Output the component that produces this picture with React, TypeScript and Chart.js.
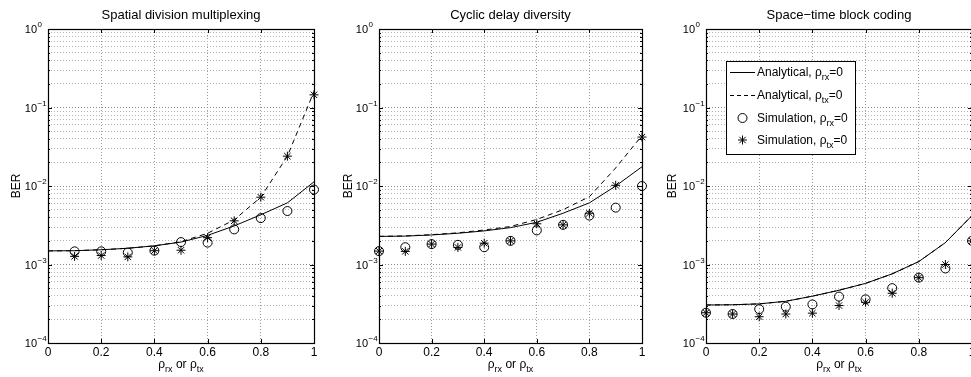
import React, { useEffect, useRef } from 'react';
import { Chart, registerables } from 'chart.js';

Chart.register(...registerables);

const FONT = '"Liberation Sans", Arial, Helvetica, sans-serif';

// ---------- data ----------
const rhoGrid = [0, 0.1, 0.2, 0.3, 0.4, 0.5, 0.6, 0.7, 0.8, 0.9, 1.0];
const xTickStep = 0.2;
const yDecades = [1e-4, 1e-3, 1e-2, 1e-1, 1];
const yExponents = ['−4', '−3', '−2', '−1', '0'];

// Spatial division multiplexing
const sdmAnalyticalRx = [1.49e-3, 1.5e-3, 1.54e-3, 1.61e-3, 1.73e-3, 1.93e-3, 2.35e-3, 3.1e-3, 4.3e-3, 6.1e-3, 1.13e-2];
const sdmAnalyticalTx = [1.49e-3, 1.5e-3, 1.54e-3, 1.61e-3, 1.73e-3, 1.95e-3, 2.5e-3, 3.7e-3, 7.2e-3, 2.4e-2, 1.6e-1];
const sdmSimX = [0.1, 0.2, 0.3, 0.4, 0.5, 0.6, 0.7, 0.8, 0.9, 1.0];
const sdmSimRx = [1.47e-3, 1.47e-3, 1.42e-3, 1.5e-3, 1.93e-3, 1.9e-3, 2.8e-3, 3.9e-3, 4.8e-3, 9.0e-3];
const sdmSimTx = [1.27e-3, 1.3e-3, 1.25e-3, 1.5e-3, 1.52e-3, 2.2e-3, 3.6e-3, 7.2e-3, 2.4e-2, 1.45e-1];

// Cyclic delay diversity
const cddAnalyticalRx = [2.28e-3, 2.3e-3, 2.38e-3, 2.5e-3, 2.68e-3, 2.95e-3, 3.45e-3, 4.5e-3, 6.1e-3, 1.0e-2, 1.76e-2];
const cddAnalyticalTx = [2.28e-3, 2.31e-3, 2.4e-3, 2.53e-3, 2.75e-3, 3.05e-3, 3.75e-3, 5.0e-3, 7.3e-3, 1.7e-2, 4.4e-2];
const cddSimX = [0, 0.1, 0.2, 0.3, 0.4, 0.5, 0.6, 0.7, 0.8, 0.9, 1.0];
const cddSimRx = [1.48e-3, 1.66e-3, 1.82e-3, 1.78e-3, 1.66e-3, 2.0e-3, 2.72e-3, 3.2e-3, 4.2e-3, 5.3e-3, 1.0e-2];
const cddSimTx = [1.48e-3, 1.47e-3, 1.82e-3, 1.65e-3, 1.87e-3, 2.0e-3, 3.3e-3, 3.2e-3, 4.5e-3, 1.02e-2, 4.2e-2];

// Space-time block coding
const stbcAnalyticalRx = [3.05e-4, 3.07e-4, 3.15e-4, 3.4e-4, 3.95e-4, 4.7e-4, 5.75e-4, 7.6e-4, 1.09e-3, 1.9e-3, 4.2e-3];
const stbcAnalyticalTx = [3.05e-4, 3.07e-4, 3.15e-4, 3.4e-4, 3.95e-4, 4.7e-4, 5.75e-4, 7.6e-4, 1.09e-3, 1.9e-3, 4.2e-3];
const stbcSimX = [0, 0.1, 0.2, 0.3, 0.4, 0.5, 0.6, 0.7, 0.8, 0.9, 1.0];
const stbcSimRx = [2.43e-4, 2.34e-4, 2.7e-4, 2.9e-4, 3.1e-4, 3.9e-4, 3.6e-4, 5.0e-4, 6.8e-4, 8.9e-4, 2.0e-3];
const stbcSimTx = [2.43e-4, 2.34e-4, 2.16e-4, 2.34e-4, 2.4e-4, 3.0e-4, 3.3e-4, 4.3e-4, 6.8e-4, 1.0e-3, 2.0e-3];

const panelTitles = ['Spatial division multiplexing', 'Cyclic delay diversity', 'Space−time block coding'];
const legendLabels = [
  ['Analytical, ', 'rx'],
  ['Analytical, ', 'tx'],
  ['Simulation, ', 'rx'],
  ['Simulation, ', 'tx'],
];

// ---------- layout (positions only) ----------
const panels = [
  {
    title: panelTitles[0], canvasLeft: 0, canvasWidth: 325, axisWidth: 48, padRight: 11, berOffset: 31, legend: false,
    anaRx: sdmAnalyticalRx, anaTx: sdmAnalyticalTx, simX: sdmSimX, simRx: sdmSimRx, simTx: sdmSimTx,
  },
  {
    title: panelTitles[1], canvasLeft: 325, canvasWidth: 325, axisWidth: 54, padRight: 8, berOffset: 30, legend: false,
    anaRx: cddAnalyticalRx, anaTx: cddAnalyticalTx, simX: cddSimX, simRx: cddSimRx, simTx: cddSimTx,
  },
  {
    title: panelTitles[2], canvasLeft: 650, canvasWidth: 340, axisWidth: 56, padRight: 18, berOffset: 33, legend: true,
    anaRx: stbcAnalyticalRx, anaTx: stbcAnalyticalTx, simX: stbcSimX, simRx: stbcSimRx, simTx: stbcSimTx,
  },
];

const H = 377;

function yTickValues() {
  const out: number[] = [];
  for (let e = -4; e <= 0; e++) {
    for (let m = 1; m <= 9; m++) {
      if (e === 0 && m > 1) break;
      out.push(parseFloat((m * Math.pow(10, e)).toPrecision(3)));
    }
  }
  return out;
}

function isDecade(v: number) {
  const l = Math.log10(v);
  return Math.abs(l - Math.round(l)) < 1e-6;
}

type Part = { t: string; sub?: boolean };

function drawRich(ctx: CanvasRenderingContext2D, parts: Part[], x: number, y: number, align: 'left' | 'center', size: number) {
  const subSize = Math.round(size * 0.75);
  let total = 0;
  const widths = parts.map((p) => {
    ctx.font = `${p.sub ? subSize : size}px ${FONT}`;
    const w = ctx.measureText(p.t).width;
    total += w;
    return w;
  });
  let cx = align === 'center' ? x - total / 2 : x;
  ctx.textAlign = 'left';
  ctx.textBaseline = 'alphabetic';
  parts.forEach((p, i) => {
    ctx.font = `${p.sub ? subSize : size}px ${FONT}`;
    ctx.fillText(p.t, cx, p.sub ? y + 4 : y);
    cx += widths[i];
  });
}

function drawStar(ctx: CanvasRenderingContext2D, x: number, y: number, r: number) {
  ctx.beginPath();
  ctx.moveTo(x - r, y); ctx.lineTo(x + r, y);
  ctx.moveTo(x, y - r); ctx.lineTo(x, y + r);
  const d = r * Math.SQRT1_2;
  ctx.moveTo(x - d, y - d); ctx.lineTo(x + d, y + d);
  ctx.moveTo(x - d, y + d); ctx.lineTo(x + d, y - d);
  ctx.stroke();
}

function makeDecor(p: typeof panels[number]) {
  return {
    id: 'decor',
    afterDraw(chart: any) {
      const { ctx, chartArea: a, scales } = chart;
      const xs = scales.x;
      const ys = scales.y;
      ctx.save();
      ctx.fillStyle = '#000';
      ctx.strokeStyle = '#000';
      ctx.lineWidth = 1;

      // inward ticks
      ctx.beginPath();
      for (let v = 0; v <= 1.0001; v += xTickStep) {
        const x = Math.round(xs.getPixelForValue(v)) + 0.5;
        ctx.moveTo(x, a.bottom); ctx.lineTo(x, a.bottom - 4);
        ctx.moveTo(x, a.top); ctx.lineTo(x, a.top + 4);
      }
      yTickValues().forEach((v) => {
        const y = Math.round(ys.getPixelForValue(v)) + 0.5;
        const len = isDecade(v) ? 4 : 2;
        ctx.moveTo(a.left, y); ctx.lineTo(a.left + len, y);
        ctx.moveTo(a.right, y); ctx.lineTo(a.right - len, y);
      });
      ctx.stroke();

      // box
      ctx.lineWidth = 1.2;
      ctx.strokeRect(Math.round(a.left) + 0.5, Math.round(a.top) + 0.5, Math.round(a.right - a.left), Math.round(a.bottom - a.top));

      // y tick labels 10^n
      yDecades.forEach((v, i) => {
        const y = ys.getPixelForValue(v);
        ctx.font = `11px ${FONT}`;
        ctx.textAlign = 'right';
        ctx.textBaseline = 'middle';
        ctx.fillText('10', a.left - 11, y + 1);
        ctx.font = `8px ${FONT}`;
        ctx.textAlign = 'left';
        ctx.fillText(yExponents[i], a.left - 10.5, y - 4);
      });

      // title
      ctx.font = `13px ${FONT}`;
      ctx.textAlign = 'center';
      ctx.textBaseline = 'middle';
      ctx.fillText(p.title, (a.left + a.right) / 2, 15);

      // x label
      drawRich(ctx, [{ t: 'ρ' }, { t: 'rx', sub: true }, { t: ' or ' }, { t: 'ρ' }, { t: 'tx', sub: true }], (a.left + a.right) / 2, 368, 'center', 12);

      // y label
      ctx.save();
      ctx.translate(a.left - p.berOffset, (a.top + a.bottom) / 2);
      ctx.rotate(-Math.PI / 2);
      ctx.font = `12px ${FONT}`;
      ctx.textAlign = 'center';
      ctx.textBaseline = 'middle';
      ctx.fillText('BER', 0, 0);
      ctx.restore();

      // legend
      if (p.legend) {
        const bx = a.left + 20;
        const by = a.top + 32;
        ctx.fillStyle = '#fff';
        ctx.fillRect(bx, by, 129, 93);
        ctx.lineWidth = 1;
        ctx.strokeStyle = '#000';
        ctx.strokeRect(bx + 0.5, by + 0.5, 129, 93);
        ctx.fillStyle = '#000';
        const rows = [43, 66, 89, 111];
        rows.forEach((ry, i) => {
          const y = a.top + ry;
          const x0 = a.left + 24;
          const x1 = a.left + 49;
          ctx.lineWidth = 1;
          if (i === 0 || i === 1) {
            ctx.setLineDash(i === 1 ? [4, 3] : []);
            ctx.beginPath();
            ctx.moveTo(x0, y + 0.5); ctx.lineTo(x1, y + 0.5);
            ctx.stroke();
            ctx.setLineDash([]);
          } else if (i === 2) {
            ctx.beginPath();
            ctx.arc((x0 + x1) / 2, y, 4.5, 0, Math.PI * 2);
            ctx.stroke();
          } else {
            drawStar(ctx, (x0 + x1) / 2, y, 4.5);
          }
          const lab = legendLabels[i];
          drawRich(ctx, [{ t: lab[0] + 'ρ' }, { t: lab[1], sub: true }, { t: '=0' }], a.left + 51, y + 4, 'left', 12);
        });
      }
      ctx.restore();
    },
  };
}

function Panel({ p }: { p: typeof panels[number] }) {
  const ref = useRef<HTMLCanvasElement | null>(null);
  useEffect(() => {
    if (!ref.current) return;
    const black = '#000';
    const chart = new Chart(ref.current, {
      type: 'scatter',
      data: {
        datasets: [
          {
            label: 'Analytical rx',
            data: rhoGrid.map((x, i) => ({ x, y: p.anaRx[i] })),
            showLine: true, borderColor: black, borderWidth: 1, pointRadius: 0, fill: false,
          },
          {
            label: 'Analytical tx',
            data: rhoGrid.map((x, i) => ({ x, y: p.anaTx[i] })),
            showLine: true, borderColor: black, borderWidth: 1, borderDash: [5, 4], pointRadius: 0, fill: false,
          },
          {
            label: 'Simulation rx',
            data: p.simX.map((x, i) => ({ x, y: p.simRx[i] })),
            showLine: false, pointStyle: 'circle', pointRadius: 4.5, borderColor: black, borderWidth: 1,
            backgroundColor: 'rgba(0,0,0,0)', clip: false,
          },
          {
            label: 'Simulation tx',
            data: p.simX.map((x, i) => ({ x, y: p.simTx[i] })),
            showLine: false, pointStyle: 'star', pointRadius: 4.5, borderColor: black, borderWidth: 1,
            backgroundColor: 'rgba(0,0,0,0)', clip: false,
          },
        ],
      } as any,
      options: {
        animation: false,
        responsive: false,
        devicePixelRatio: 1,
        events: [],
        layout: { padding: { top: 29, right: p.padRight, left: 0, bottom: 0 } },
        plugins: { legend: { display: false }, title: { display: false }, tooltip: { enabled: false } },
        scales: {
          x: {
            type: 'linear',
            min: 0,
            max: 1,
            ticks: {
              stepSize: xTickStep,
              color: '#000',
              font: { family: FONT, size: 12 },
              padding: 2,
              maxRotation: 0,
              callback: (v: any) => String(parseFloat(Number(v).toFixed(1))),
            },
            grid: { color: '#9a9a9a', lineWidth: 1, drawTicks: false },
            border: { display: false, dash: [1, 2] },
            afterFit: (s: any) => { s.height = H - 343; },
          },
          y: {
            type: 'logarithmic',
            min: 1e-4,
            max: 1,
            ticks: { display: false },
            grid: {
              color: (c: any) => (c.tick && isDecade(c.tick.value) ? '#8a8a8a' : '#b4b4b4'),
              lineWidth: 1,
              drawTicks: false,
            },
            border: { display: false, dash: [1, 2] },
            afterBuildTicks: (s: any) => { s.ticks = yTickValues().map((v) => ({ value: v })); },
            afterFit: (s: any) => { s.width = p.axisWidth; },
          },
        },
      } as any,
      plugins: [makeDecor(p)],
    });
    return () => chart.destroy();
  }, [p]);
  return (
    <div style={{ position: 'absolute', left: p.canvasLeft, top: 0, width: p.canvasWidth, height: H }}>
      <canvas ref={ref} width={p.canvasWidth} height={H} style={{ width: p.canvasWidth, height: H, display: 'block' }} />
    </div>
  );
}

export default function App() {
  return (
    <div style={{ position: 'absolute', left: 0, top: 0, width: 971, height: H, overflow: 'hidden', background: '#fff' }}>
      {panels.map((p, i) => (
        <Panel key={i} p={p} />
      ))}
    </div>
  );
}
